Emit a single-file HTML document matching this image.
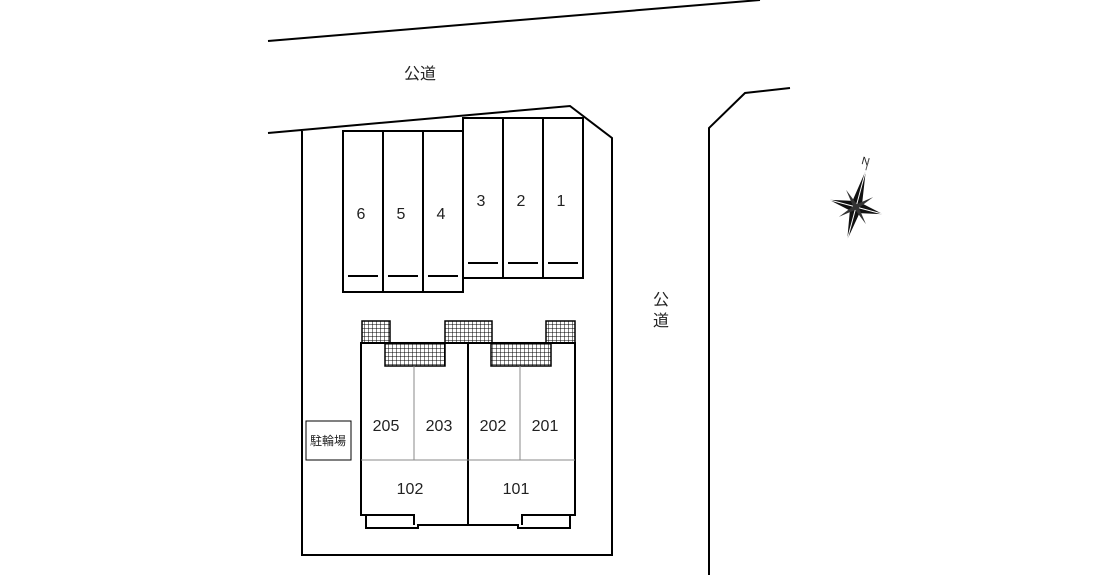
<!DOCTYPE html><html><head><style>body{margin:0;background:#fff}svg{display:block}text{font-family:"Liberation Sans","Noto Sans CJK JP",sans-serif;fill:#222}</style></head><body>
<svg width="1111" height="575" viewBox="0 0 1111 575" xmlns="http://www.w3.org/2000/svg">
<defs><pattern id="g" width="4" height="4" patternUnits="userSpaceOnUse"><rect width="4" height="4" fill="#fff"/><path d="M0 0H4M0 0V4" stroke="#000" stroke-width="1"/></pattern></defs>
<g fill="none" stroke="#000" stroke-width="2">
<path d="M268 41L760 0"/>
<path d="M268 133L570 106L612 138V555H302V131"/>
<path d="M709 575V128L745 93L790 88"/>
<rect x="343" y="131" width="120" height="161"/>
<path d="M383 131V292M423 131V292"/>
<rect x="463" y="118" width="120" height="160"/>
<path d="M503 118V278M543 118V278"/>
<path d="M348 276H378M388 276H418M428 276H458M468 263H498M508 263H538M548 263H578"/>
<rect x="306" y="421" width="45" height="39" stroke-width="1"/>
</g>
<g stroke="#000" stroke-width="1.5" fill="url(#g)">
<rect x="362" y="321" width="28" height="22"/>
<rect x="445" y="321" width="47" height="22"/>
<rect x="546" y="321" width="29" height="22"/>
<rect x="385" y="343" width="60" height="23"/>
<rect x="491" y="343" width="60" height="23"/>
</g>
<g fill="none" stroke="#000" stroke-width="2">
<path d="M361 343V515H366V528H418V525H518V528H570V515H575V343Z"/>
<path d="M361 515H414V525M575 515H522V525"/>
<path d="M468 343V525"/>
</g>
<path d="M361 460H575M414 366V460M520 366V460" stroke="#888" stroke-width="1"/>
<g font-size="16" text-anchor="middle">
<text x="420" y="79">公道</text>
<text x="661" y="305">公</text><text x="661" y="326">道</text>
<text x="361" y="219">6</text><text x="401" y="219">5</text><text x="441" y="219">4</text>
<text x="481" y="206">3</text><text x="521" y="206">2</text><text x="561" y="206">1</text>
<text x="386" y="431">205</text><text x="439" y="431">203</text><text x="493" y="431">202</text><text x="545" y="431">201</text>
<text x="410" y="494">102</text><text x="516" y="494">101</text>
<text x="328" y="445" font-size="12">駐輪場</text>
<text x="866" y="165" font-size="11" transform="rotate(15 866 160)">N</text>
</g>
<g transform="translate(856,207) rotate(15)">
<path d="M0 -38L5 -5L28 0L5 5L0 34L-5 5L-28 0L-5 -5Z" fill="#111"/>
<path d="M0 -38L0 34M-28 0L28 0" stroke="#fff" stroke-width="1"/>
<path d="M14 -14L3 0L14 14L0 3L-14 14L-3 0L-14 -14L0 -3Z" fill="#333"/>
<path d="M0 -38V-50" stroke="#555"/>
</g>
</svg></body></html>
